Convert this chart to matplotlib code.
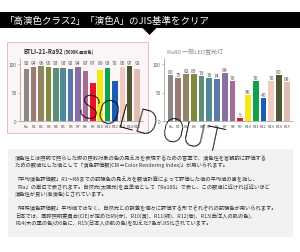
import matplotlib
matplotlib.use("Agg")
import matplotlib.pyplot as plt
from matplotlib.patches import Rectangle, Polygon

plt.rcParams['font.family'] = ['Noto Sans CJK JP', 'DejaVu Sans']

# --- data ---
labels = ['Ra', 'R1', 'R2', 'R3', 'R4', 'R5', 'R6', 'R7', 'R8',
          'R9', 'R10', 'R11', 'R12', 'R13', 'R14', 'R15']
btli_vals = [92, 94, 96, 95, 93, 93, 92, 94, 87, 67, 89, 93, 70, 95, 97, 92]
led_vals = [80, 75, 82, 83, 79, 76, 74, 84, 70, 5, 46, 70, 40, 70, 80, 68]
bar_colors = ['#8c8987', '#9c7a76', '#8f8660', '#7f8a3e', '#5b8e78', '#4f8a98',
              '#5a78a8', '#8a6ea6', '#a56c98', '#e8132b', '#f6e817', '#11a04c',
              '#1b5db2', '#f0cbc2', '#4f5634', '#e0bcb1']

title = '「高演色クラス2」「演色A」のJIS基準をクリア'
left_title = 'BTLI-21-Ra92'
left_sub = '(5000K 昼白色)'
right_title = 'Ra80 一般LED蛍光灯'
body = [
    '演色性とは照明で照らした際の照射対象の色の見え方を表現するための言葉で、演色性を客観的に評価する',
    'ための数値化した値として「演色評価数(CRI＝Color Rendering Index)」が用いられます。',
    None,
    '「平均演色評価数」R1～R8までの試験色の見え方を数値計算によって評価した値の平均値の事を指し、',
    '「Ra」の単位で表されます。自然光(太陽光)を基準値として「Ra100」で表し、この数値に近ければ近いほど',
    '演色性が良い(高演色)とされています。',
    None,
    '「特殊演色評価数」平均値ではなく、自然光との誤差を個々に評価する形でそれぞれの試験色が用いられます。',
    '日本では、国際照明委員会(CIE)が定めたR9(赤)、R10(黄)、R11(緑)、R12(青)、R13(西洋人の肌の色)、',
    'R14(木の葉の色)の6色に、R15(日本人の肌の色)を加えた7色がJIS化されています。',
]

W, H = 300, 253
fig = plt.figure(figsize=(W / 100, H / 100), dpi=100)
fig.patch.set_facecolor('white')


def fx(x):
    return x / W


def fy(y):
    return 1 - y / H


def rect(x0, y0, x1, y1):
    return [fx(x0), fy(y1), (x1 - x0) / W, (y1 - y0) / H]


# title bar
fig.add_artist(Rectangle((0, fy(29)), 1, (29 - 13) / H, transform=fig.transFigure,
                         facecolor='black', edgecolor='none', zorder=-1))
fig.add_artist(Polygon([(fx(142), fy(28.5)), (fx(157), fy(28.5)), (fx(149.5), fy(36))],
                       closed=True, transform=fig.transFigure,
                       facecolor='black', edgecolor='none', zorder=-1))
fig.text(fx(5), fy(21), title, color='white', fontsize=6.8, va='center', ha='left')

# left panel frame
fig.add_artist(Rectangle((fx(7), fy(134)), (148 - 7) / W, (134 - 43) / H,
                         transform=fig.transFigure, facecolor='#fcf5f5',
                         edgecolor='#e9b6b6', linewidth=0.6, zorder=-1))

# text block background
fig.add_artist(Rectangle((fx(8), fy(238)), (293 - 8) / W, (238 - 150) / H,
                         transform=fig.transFigure, facecolor='#f2f2f2',
                         edgecolor='none', zorder=-1))

y_top = 122 - 110 * 0.57


def draw_panel(ax, vals, above_bars):
    x = range(len(vals))
    ax.bar(x, vals, width=0.75, color=bar_colors)
    ax.set_ylim(0, 110)
    ax.set_xlim(-0.85, 15.8)
    ax.patch.set_visible(False)
    for s in ['top', 'right']:
        ax.spines[s].set_visible(False)
    for s in ['left', 'bottom']:
        ax.spines[s].set_color('#9a9a9a')
        ax.spines[s].set_linewidth(0.5)
    ax.set_yticks([0, 50, 100])
    ax.tick_params(axis='y', length=1.5, width=0.5, color='#9a9a9a',
                   labelsize=3.3, labelcolor='#555555', pad=1)
    ax.set_xticks(list(x))
    ax.set_xticklabels(labels, fontsize=2.8, color='#555555')
    ax.tick_params(axis='x', length=0, pad=2.5)
    for i, v in enumerate(vals):
        if above_bars:
            ax.text(i, v + 2, str(v), ha='center', va='bottom',
                    fontsize=3.6, color='#555555')
        else:
            ax.text(i, 103.5, str(v), ha='center', va='center',
                    fontsize=3.6, color='#555555')


ax1 = fig.add_axes(rect(20, y_top, 143, 122))
draw_panel(ax1, btli_vals, False)
ax2 = fig.add_axes(rect(164, y_top, 293, 122))
draw_panel(ax2, led_vals, True)

fig.text(fx(24), fy(52), left_title, fontsize=4.3, fontweight='bold',
         color='#333333', va='center', ha='left')
fig.text(fx(64), fy(52.3), left_sub, fontsize=3.0, fontweight='bold',
         color='#333333', va='center', ha='left')
fig.text(fx(167), fy(52), right_title, fontsize=4.3, color='#888888',
         va='center', ha='left')

# body text
y = 158
for line in body:
    if line is None:
        y += 7
        continue
    fig.text(fx(15), fy(y), line, fontsize=3.8, color='#333333',
             va='center', ha='left')
    y += 7.3

# SOLD OUT stamp
fig.text(fx(118), fy(118), 'SOLD', fontsize=24, rotation=-15, color='black',
         family='Roboto', fontweight='light', ha='center', va='center')
fig.text(fx(193), fy(138), 'OUT', fontsize=24, rotation=-12, color='black',
         family='Roboto', fontweight='light', ha='center', va='center')

fig.savefig('out.png', dpi=100)
